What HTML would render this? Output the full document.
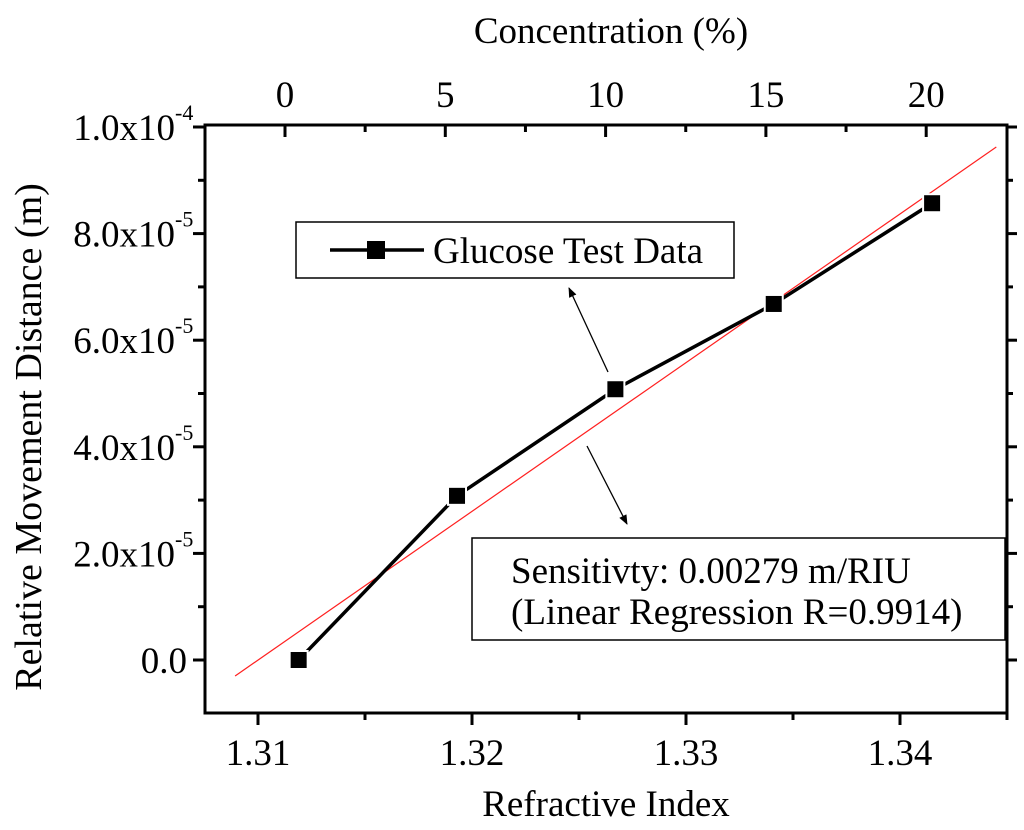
<!DOCTYPE html>
<html><head><meta charset="utf-8"><style>
body{margin:0;background:#fff}
svg{display:block;font-family:"Liberation Serif",serif}
</style></head><body>
<svg id="chart" width="1024" height="830" viewBox="0 0 1024 830"></svg>
<script>
const riValues=[1.3119,1.3193,1.3267,1.3341,1.3415];
const distValues=[0,3.08e-5,5.08e-5,6.68e-5,8.57e-5];
const xTicks=[1.31,1.32,1.33,1.34];
const xTickLabels=["1.31","1.32","1.33","1.34"];
const yTicks=[0,2e-5,4e-5,6e-5,8e-5,1e-4];
const yTickLabels=[["0.0",""],["2.0x10","-5"],["4.0x10","-5"],["6.0x10","-5"],["8.0x10","-5"],["1.0x10","-4"]];
const topTicks=[0,5,10,15,20];
const fitSlope=0.00279;
const fitRange=[1.30893,1.3445];
const fitStartY=-3.0e-6;

const L=205,R=1007,T=125,B=713;
const sx=v=>258+(v-1.31)*21400;
const sy=v=>660-v*5.33e6;
const st=v=>285+v*32.06;
const NS="http://www.w3.org/2000/svg";
const svg=document.getElementById('chart');
function mk(tag,attrs,parent){const e=document.createElementNS(NS,tag);for(const k in attrs)e.setAttribute(k,attrs[k]);(parent||svg).appendChild(e);return e;}

const fr=mk('rect',{x:L,y:T,width:R-L,height:B-T,fill:'none',stroke:'#000','stroke-width':3});



xTicks.forEach((t,i)=>{
  const x=sx(t);
  const l=mk('line',{x1:x,y1:B,x2:x,y2:B+12,stroke:'#000','stroke-width':3});
  
  
  const m=mk('line',{x1:x+107,y1:B,x2:x+107,y2:B+7,stroke:'#000','stroke-width':3});
  
  
  const tx=mk('text',{x:x,y:B+52,'text-anchor':'middle','font-size':37});
  tx.textContent=xTickLabels[i];
  
  
});
topTicks.forEach((t,i)=>{
  const x=st(t);
  const l=mk('line',{x1:x,y1:T,x2:x,y2:T+12,stroke:'#000','stroke-width':3});
  
  
  if(i<topTicks.length-1){
    const m=mk('line',{x1:st(t+2.5),y1:T,x2:st(t+2.5),y2:T+7,stroke:'#000','stroke-width':3});
    
    
  }
  const tx=mk('text',{x:x,y:T-18,'text-anchor':'middle','font-size':37});
  tx.textContent=String(t);
  
  
});
yTicks.forEach((t,i)=>{
  const y=sy(t);
  const l=mk('line',{x1:L-12,y1:y,x2:L,y2:y,stroke:'#000','stroke-width':3});
  
  
  const r=mk('line',{x1:R,y1:y,x2:R+10,y2:y,stroke:'#000','stroke-width':3});
  
  
  if(i<yTicks.length-1){
    const ym=sy(t+1e-5);
    const m=mk('line',{x1:L-7,y1:ym,x2:L,y2:ym,stroke:'#000','stroke-width':3});
    
    
    const m2=mk('line',{x1:R,y1:ym,x2:R+6,y2:ym,stroke:'#000','stroke-width':3});
    
    
  }
  const tx=mk('text',{x:yTickLabels[i][1]?175:187,y:y+13,'text-anchor':'end','font-size':37});
  tx.textContent=yTickLabels[i][0];
  
  
  if(yTickLabels[i][1]){
    const sp=mk('text',{x:175,y:y-7,'text-anchor':'start','font-size':22});
    sp.textContent=yTickLabels[i][1];
    
    
  }
});
const fit=mk('line',{x1:sx(fitRange[0]),y1:sy(fitStartY),x2:sx(fitRange[1]),y2:sy(fitStartY+fitSlope*(fitRange[1]-fitRange[0])),stroke:'#ff2020','stroke-width':1.2});


const pts=riValues.map((v,i)=>sx(v)+','+sy(distValues[i])).join(' ');
const pl=mk('polyline',{points:pts,fill:'none',stroke:'#000','stroke-width':3.5});


riValues.forEach((v,i)=>{
  const s=mk('rect',{x:sx(v)-9,y:sy(distValues[i])-9,width:18,height:18,fill:'#000',stroke:'#fff','stroke-width':2});
  
  
});
const lg=mk('g',{});


mk('rect',{x:296,y:222,width:438,height:56,fill:'#fff',stroke:'#000','stroke-width':1.5},lg);
mk('line',{x1:330,y1:250,x2:424,y2:250,stroke:'#000','stroke-width':3.5},lg);
mk('rect',{x:367,y:241,width:18,height:18,fill:'#000'},lg);
const lt=mk('text',{x:433,y:263,'font-size':37},lg);
lt.textContent='Glucose Test Data';
const an=mk('g',{});


mk('rect',{x:472,y:538,width:533,height:102,fill:'#fff',stroke:'#000','stroke-width':1.5},an);
const a1=mk('text',{x:511,y:583,'font-size':37},an);a1.textContent='Sensitivty: 0.00279 m/RIU';
const a2=mk('text',{x:511,y:624,'font-size':37},an);a2.textContent='(Linear Regression R=0.9914)';
mk('defs',{}).innerHTML='<marker id="ah" markerWidth="10" markerHeight="8" refX="9" refY="4" orient="auto" markerUnits="userSpaceOnUse"><path d="M0,0 L10,4 L0,8 Z" fill="#000"/></marker>';
const ar1=mk('line',{x1:608,y1:372,x2:569,y2:288,stroke:'#000','stroke-width':1.3,'marker-end':'url(#ah)'});


const ar2=mk('line',{x1:587,y1:446,x2:627,y2:524,stroke:'#000','stroke-width':1.3,'marker-end':'url(#ah)'});


const xt=mk('text',{x:606,y:816,'text-anchor':'middle','font-size':37});
xt.textContent='Refractive Index';


const tt=mk('text',{x:611,y:43,'text-anchor':'middle','font-size':37});
tt.textContent='Concentration (%)';


const yt=mk('text',{x:0,y:0,'text-anchor':'middle','font-size':38,transform:'translate(41,437) rotate(-90)'});
yt.textContent='Relative Movement Distance (m)';


</script>
</body></html>
